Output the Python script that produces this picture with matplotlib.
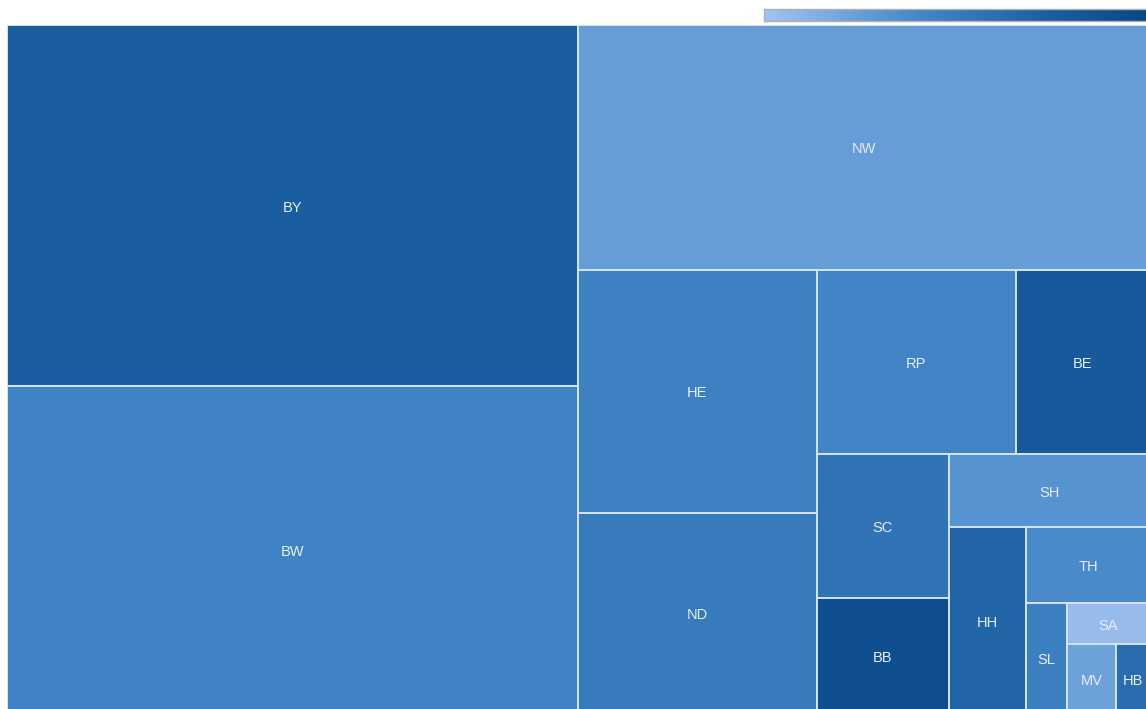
import matplotlib
matplotlib.use("Agg")
import matplotlib.pyplot as plt
import numpy as np
from matplotlib.colors import LinearSegmentedColormap
from matplotlib.patches import Rectangle

# ---- data ----
states = ["BY", "BW", "NW", "HE", "ND", "RP", "BE", "SC", "BB",
          "SH", "HH", "TH", "SL", "SA", "MV", "HB"]
sizes = [206, 187, 140, 58, 48, 36.6, 24.7, 19.0, 15.3,
         14.7, 14.4, 9.4, 4.55, 3.43, 3.40, 2.38]
color_values = [0.75, 0.43, 0.25, 0.45, 0.50, 0.42, 0.80, 0.56, 0.90,
                0.32, 0.69, 0.38, 0.47, 0.05, 0.23, 0.62]

cmap = LinearSegmentedColormap.from_list(
    "blues", [(0.0, "#a2c3f0"), (0.4, "#4487c8"), (0.75, "#1a5ea0"),
              (1.0, "#0a4684")])

# ---- layout: recursive binary split ----
def layout(vals, x, y, w, h, out, idx):
    if len(vals) == 1:
        out.append((idx[0], x, y, w, h))
        return
    total = sum(vals)
    half = total / 2.0
    k, acc = 1, vals[0]
    while k < len(vals) - 1 and acc + vals[k] <= half:
        acc += vals[k]
        k += 1
    frac = acc / total
    if w >= h:
        w1 = w * frac
        layout(vals[:k], x, y, w1, h, out, idx[:k])
        layout(vals[k:], x + w1, y, w - w1, h, out, idx[k:])
    else:
        h1 = h * frac
        layout(vals[:k], x, y, w, h1, out, idx[:k])
        layout(vals[k:], x, y + h1, w, h - h1, out, idx[k:])

W, H = 1143.0, 689.0
rects = []
layout(sizes, 0.0, 0.0, W, H, rects, list(range(len(sizes))))

fig = plt.figure(figsize=(11.46, 7.09), dpi=100)
ax = fig.add_axes([7 / 1146, (709 - 714) / 709, 1143 / 1146, 689 / 709])
ax.set_xlim(0, W)
ax.set_ylim(H, 0)
ax.axis("off")

for i, x, y, w, h in rects:
    ax.add_patch(Rectangle((x, y), w, h, facecolor=cmap(color_values[i]),
                           edgecolor="#d4e3f5", linewidth=1.4))
    ax.text(x + w / 2, y + h / 2 + 2, states[i], ha="center", va="center",
            fontsize=10.5, color="#e4edf9", family="Liberation Sans")

# ---- color scale bar ----
cax = fig.add_axes([764 / 1146, (709 - 21) / 709, (1150 - 764) / 1146, 12 / 709])
grad = np.linspace(0, 1, 256).reshape(1, -1)
cax.imshow(grad, aspect="auto", cmap=cmap, extent=(0, 1, 0, 1))
cax.set_xticks([])
cax.set_yticks([])
for s in cax.spines.values():
    s.set_color("#b0b0b0")
    s.set_linewidth(1.0)

fig.savefig("out.png", dpi=100)
